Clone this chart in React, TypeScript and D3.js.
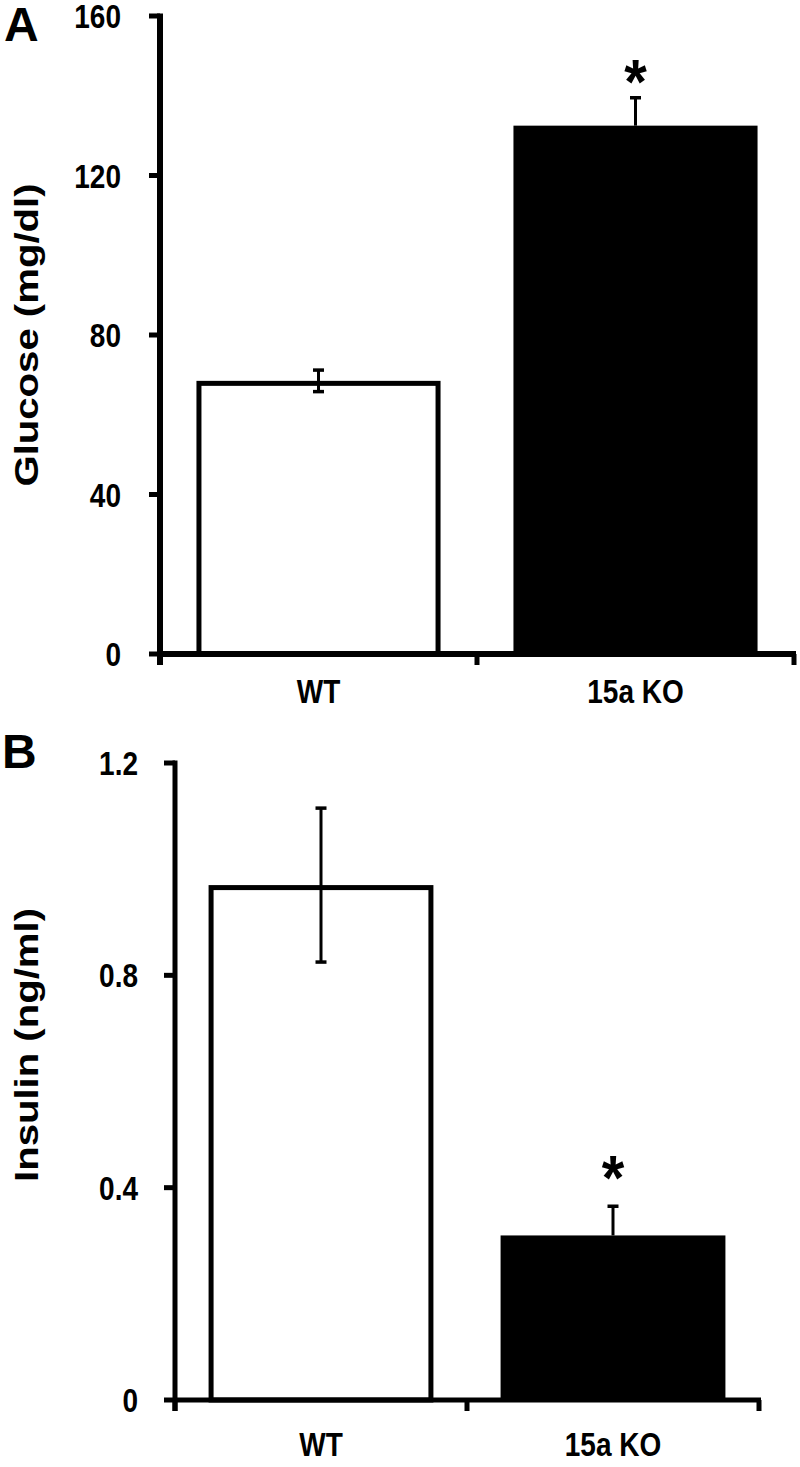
import React from "react";
import * as d3 from "d3";

// ---- data ----
const categories = ["WT", "15a KO"];
const glucoseMean = [68.5, 132.5];
const glucoseErr = [2.7, 7];
const glucoseSig = [false, true];
const glucoseTicks = [0, 40, 80, 120, 160];

const insulinMean = [0.97, 0.31];
const insulinErr = [0.145, 0.055];
const insulinSig = [false, true];
const insulinTicks = [0, 0.4, 0.8, 1.2];
const insulinTickLabels = ["0", "0.4", "0.8", "1.2"];

const FONT = "'Liberation Sans', Arial, sans-serif";

type PanelProps = {
  letter: string;
  letterPos: [number, number];
  yTitle: string;
  yTitlePos: [number, number];
  means: number[];
  errs: number[];
  sig: boolean[];
  starGap: number;
  ticks: number[];
  tickLabels: string[];
  domain: [number, number];
  x0: number;
  x1: number;
  yTop: number;
  yBottom: number;
  axisW: number;
  labelRight: number;
  catLabelY: number;
};

function Panel(p: PanelProps) {
  const y = d3.scaleLinear().domain(p.domain).range([p.yBottom, p.yTop]);
  const pad = 0.23;
  const x = d3
    .scaleBand<string>()
    .domain(categories)
    .range([p.x0, p.x1])
    .paddingInner(pad)
    .paddingOuter(pad / 2);
  const step = x.step();
  const bw = x.bandwidth();
  const tickLen = 11;
  const sy = 1.2;
  return (
    <g>
      <text
        x={p.letterPos[0]}
        y={p.letterPos[1]}
        fontFamily={FONT}
        fontWeight="bold"
        fontSize={48}
      >
        {p.letter}
      </text>
      <text
        transform={`translate(${p.yTitlePos[0]},${p.yTitlePos[1]}) rotate(-90) scale(1.18,1)`}
        textAnchor="middle"
        fontFamily={FONT}
        fontWeight="bold"
        fontSize={34}
      >
        {p.yTitle}
      </text>
      {/* bars */}
      {categories.map((c, i) => {
        const isWT = i === 0;
        const sw = 5;
        const top = y(p.means[i]);
        return (
          <rect
            key={"b" + c}
            x={x(c)! + (isWT ? sw / 2 : 0)}
            y={top + (isWT ? sw / 2 : 0)}
            width={bw - (isWT ? sw : 0)}
            height={p.yBottom - top - (isWT ? sw / 2 : 0)}
            fill={isWT ? "#fff" : "#000"}
            stroke={isWT ? "#000" : "none"}
            strokeWidth={sw}
          />
        );
      })}
      {/* error bars */}
      {categories.map((c, i) => {
        const cx = x(c)! + bw / 2;
        const hi = y(p.means[i] + p.errs[i]);
        const lo = y(p.means[i] - p.errs[i]);
        return (
          <g key={"e" + c} stroke="#000">
            <line x1={cx} x2={cx} y1={hi} y2={i === 0 ? lo : y(p.means[i])} strokeWidth={3} />
            <line x1={cx - 5.5} x2={cx + 5.5} y1={hi} y2={hi} strokeWidth={3.5} />
            {i === 0 && <line x1={cx - 5.5} x2={cx + 5.5} y1={lo} y2={lo} strokeWidth={3.5} />}
            {p.sig[i] && (
              <text
                transform={`translate(${cx},${hi - p.starGap}) scale(1,1.1)`}
                textAnchor="middle"
                fontFamily={FONT}
                fontWeight="bold"
                fontSize={58}
                stroke="none"
                dy="0.55em"
              >
                *
              </text>
            )}
          </g>
        );
      })}
      {/* y axis */}
      <line
        x1={p.x0}
        x2={p.x0}
        y1={p.yTop - 2.5}
        y2={p.yBottom + tickLen}
        stroke="#000"
        strokeWidth={p.axisW}
      />
      {p.ticks.map((t, i) => (
        <g key={"yt" + t}>
          <line
            x1={p.x0 - tickLen}
            x2={p.x0}
            y1={y(t)}
            y2={y(t)}
            stroke="#000"
            strokeWidth={5}
          />
          <text
            transform={`translate(${p.labelRight},${y(t) + 12}) scale(1,${sy})`}
            textAnchor="end"
            fontFamily={FONT}
            fontWeight="bold"
            fontSize={28}
          >
            {p.tickLabels[i]}
          </text>
        </g>
      ))}
      {/* x axis */}
      <line
        x1={p.x0}
        x2={p.x1 + 2}
        y1={p.yBottom}
        y2={p.yBottom}
        stroke="#000"
        strokeWidth={p.axisW}
      />
      {[0, 1, 2].map((k) => (
        <line
          key={"xt" + k}
          x1={p.x0 + k * step}
          x2={p.x0 + k * step}
          y1={p.yBottom}
          y2={p.yBottom + tickLen}
          stroke="#000"
          strokeWidth={5}
        />
      ))}
      {categories.map((c) => (
        <text
          key={"xl" + c}
          transform={`translate(${x(c)! + bw / 2},${p.catLabelY}) scale(1,${sy})`}
          textAnchor="middle"
          fontFamily={FONT}
          fontWeight="bold"
          fontSize={28}
        >
          {c}
        </text>
      ))}
    </g>
  );
}

export default function App() {
  return (
    <svg
      width={800}
      height={1467}
      style={{ position: "absolute", left: 0, top: 0, background: "#fff" }}
    >
      <rect width={800} height={1467} fill="#fff" />
      <Panel
        letter="A"
        letterPos={[4, 41]}
        yTitle="Glucose (mg/dl)"
        yTitlePos={[38, 335]}
        means={glucoseMean}
        errs={glucoseErr}
        sig={glucoseSig}
        starGap={30}
        ticks={glucoseTicks}
        tickLabels={glucoseTicks.map(String)}
        domain={[0, 160]}
        x0={160}
        x1={794}
        yTop={16}
        yBottom={654}
        axisW={6}
        labelRight={121}
        catLabelY={703}
      />
      <Panel
        letter="B"
        letterPos={[2, 768]}
        yTitle="Insulin (ng/ml)"
        yTitlePos={[38, 1045]}
        means={insulinMean}
        errs={insulinErr}
        sig={insulinSig}
        starGap={42}
        ticks={insulinTicks}
        tickLabels={insulinTickLabels}
        domain={[0, 1.2]}
        x0={175}
        x1={759}
        yTop={763}
        yBottom={1400}
        axisW={5}
        labelRight={138}
        catLabelY={1456}
      />
    </svg>
  );
}
